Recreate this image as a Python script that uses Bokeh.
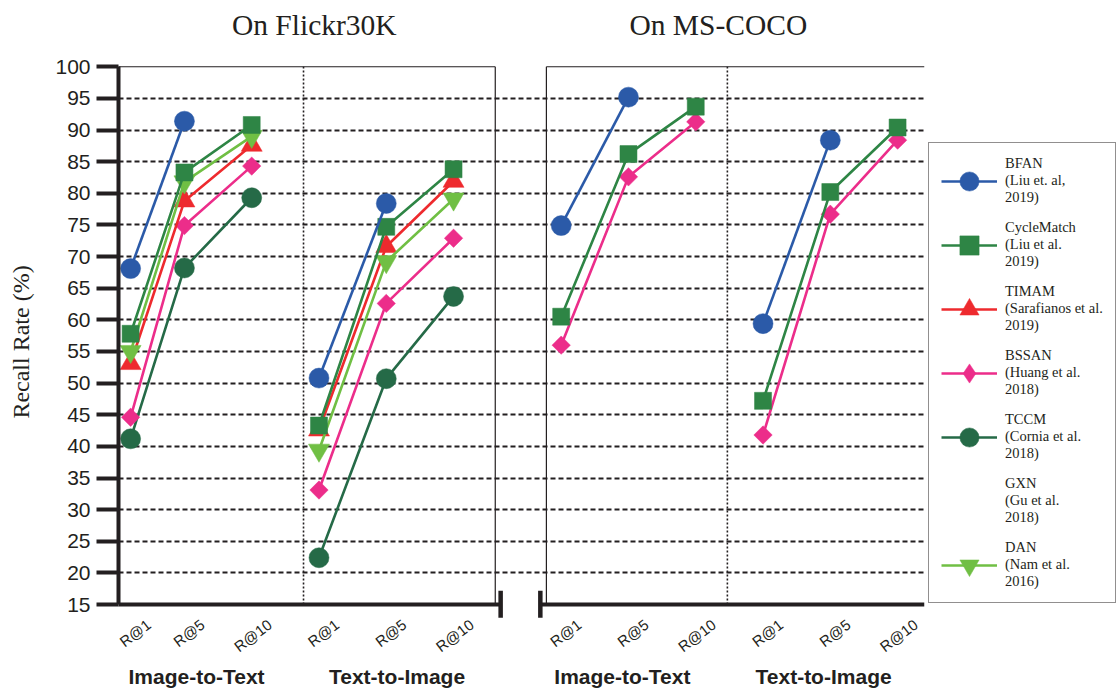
import math
from bokeh.plotting import figure
from bokeh.models import (Range1d, FixedTicker, Legend, LegendItem, LinearAxis)
from bokeh.embed import file_html
from bokeh.resources import INLINE

# ---------------- data ----------------
datasets = ["On Flickr30K", "On  MS-COCO"]
directions = ["Image-to-Text", "Text-to-Image"]
metrics = ["R@1", "R@5", "R@10"]

methods = ["BFAN", "CycleMatch", "TIMAM", "BSSAN", "TCCM", "GXN", "DAN"]
citations = ["(Liu et. al,\n2019)", "(Liu et al.\n2019)", "(Sarafianos et al.\n2019)",
             "(Huang et al.\n2018)", "(Cornia et al.\n2018)", "(Gu et al.\n2018)",
             "(Nam et al.\n2016)"]

# values per method: [I2T R@1, R@5, R@10, T2I R@1, R@5, R@10]
bfan_f30k = [68.1, 91.4, None, 50.8, 78.4, None]
cyclematch_f30k = [57.8, 83.3, 90.8, 43.3, 74.7, 83.8]
timam_f30k = [53.1, 78.8, 87.6, 42.6, 71.6, 81.9]
bssan_f30k = [44.6, 74.9, 84.3, 33.1, 62.6, 72.9]
tccm_f30k = [41.2, 68.2, 79.3, 22.4, 50.7, 63.7]
gxn_f30k = [None, None, None, None, None, None]
dan_f30k = [55.0, 81.8, 89.0, 39.4, 69.2, 79.1]

bfan_coco = [74.9, 95.2, None, 59.4, 88.4, None]
cyclematch_coco = [60.5, 86.2, 93.7, 47.2, 80.2, 90.4]
timam_coco = [None, None, None, None, None, None]
bssan_coco = [56.0, 82.6, 91.3, 41.8, 76.7, 88.4]
tccm_coco = [None, None, None, None, None, None]
gxn_coco = [None, None, None, None, None, None]
dan_coco = [None, None, None, None, None, None]

y_ticks = [15, 20, 25, 30, 35, 40, 45, 50, 55, 60, 65, 70, 75, 80, 85, 90, 95, 100]

# ---------------- layout / style ----------------
tick_x = [0.2, 1, 2, 3, 4, 5, 6.6, 7.6, 8.6, 9.6, 10.6, 11.6]
label_shift = 0.27          # rotated labels sit centred under their tick
title_x = [2.93, 8.99]
group_x = [1.18, 4.16, 7.51, 10.5]
values = {
    "BFAN": bfan_f30k + bfan_coco,
    "CycleMatch": cyclematch_f30k + cyclematch_coco,
    "TIMAM": timam_f30k + timam_coco,
    "BSSAN": bssan_f30k + bssan_coco,
    "TCCM": tccm_f30k + tccm_coco,
    "GXN": gxn_f30k + gxn_coco,
    "DAN": dan_f30k + dan_coco,
}
styles = {
    "BFAN": dict(color="#2b5aa8", marker="circle", size=20, angle=0.0, leg="circle"),
    "CycleMatch": dict(color="#2e8545", marker="square", size=17, angle=0.0, leg="square"),
    "TIMAM": dict(color="#ee2a2e", marker="triangle", size=21, angle=0.0, leg="triangle"),
    "BSSAN": dict(color="#ec2d8a", marker="square", size=13, angle=math.pi / 4, leg="diamond"),
    "TCCM": dict(color="#256a47", marker="circle", size=20, angle=0.0, leg="circle"),
    "GXN": dict(color="#888888", marker="circle", size=0, angle=0.0, leg=None),
    "DAN": dict(color="#70bf44", marker="inverted_triangle", size=21, angle=0.0,
                leg="inverted_triangle"),
}
draw_order = ["TCCM", "BSSAN", "TIMAM", "DAN", "CycleMatch", "BFAN", "GXN"]
INK = "#231f20"
NAN = float("nan")

p = figure(output_backend="svg", toolbar_location=None,
           frame_width=806, frame_height=553,
           min_border_left=118, min_border_top=65, min_border_bottom=73,
           min_border_right=193,
           x_range=Range1d(0.02, 12.0), y_range=Range1d(12.8, 100.2))
p.outline_line_color = None
p.background_fill_color = "white"
p.border_fill_color = "white"

# y axis
yax = p.yaxis[0]
yax.ticker = FixedTicker(ticks=y_ticks)
yax.bounds = (15, 100)
yax.axis_line_width = 4
yax.axis_line_color = INK
yax.major_tick_line_width = 4
yax.major_tick_line_color = INK
yax.major_tick_out = 22
yax.major_tick_in = 0
yax.minor_tick_line_color = None
yax.major_label_text_font = "Liberation Sans"
yax.major_label_text_font_size = "21px"
yax.major_label_text_color = INK
yax.major_label_standoff = 6
yax.axis_label = "Recall Rate (%)"
yax.axis_label_text_font = "Liberation Serif"
yax.axis_label_text_font_size = "24px"
yax.axis_label_text_font_style = "normal"
yax.axis_label_text_color = INK
yax.axis_label_standoff = 18

# x axis (metric labels)
label_ticks = [t + label_shift for t in tick_x]
xax = p.xaxis[0]
xax.ticker = FixedTicker(ticks=label_ticks)
xax.major_label_overrides = {t: metrics[i % 3] for i, t in enumerate(label_ticks)}
xax.major_label_orientation = 0.65
xax.axis_line_color = None
xax.major_tick_line_color = None
xax.minor_tick_line_color = None
xax.major_label_text_font = "Liberation Sans"
xax.major_label_text_font_size = "15px"
xax.major_label_text_color = INK
xax.major_label_standoff = -2

# x axis (group labels)
gax = LinearAxis(ticker=FixedTicker(ticks=group_x),
                 major_label_overrides={x: directions[i % 2] for i, x in enumerate(group_x)},
                 axis_line_color=None, major_tick_line_color=None,
                 minor_tick_line_color=None,
                 major_label_text_font="Liberation Sans",
                 major_label_text_font_size="21px",
                 major_label_text_font_style="bold",
                 major_label_text_color=INK, major_label_standoff=-6)
p.add_layout(gax, "below")

# title axis (dataset labels)
tax = LinearAxis(ticker=FixedTicker(ticks=title_x),
                 major_label_overrides={x: datasets[i] for i, x in enumerate(title_x)},
                 axis_line_color=None, major_tick_line_color=None,
                 minor_tick_line_color=None,
                 major_label_text_font="Liberation Serif",
                 major_label_text_font_size="29.5px",
                 major_label_text_color=INK, major_label_standoff=19)
p.add_layout(tax, "above")

# grid
p.xgrid.visible = False
p.ygrid.ticker = FixedTicker(ticks=y_ticks[1:-1])
p.ygrid.grid_line_color = INK
p.ygrid.grid_line_width = 2
p.ygrid.grid_line_dash = "5 3"

# panel frames
p.segment(x0=[0.02, 6.38], y0=[100, 100], x1=[5.62, 12.0], y1=[100, 100],
          line_color=INK, line_width=1.2)
p.segment(x0=[5.62, 6.38], y0=[15, 15], x1=[5.62, 6.38], y1=[100, 100],
          line_color=INK, line_width=1.2)
p.segment(x0=[2.77, 9.07], y0=[15, 15], x1=[2.77, 9.07], y1=[100, 100],
          line_color=INK, line_width=1.6, line_dash="2 2")
p.segment(x0=[0.0, 6.29], y0=[15, 15], x1=[5.70, 12.0], y1=[15, 15],
          line_color=INK, line_width=4)
p.segment(x0=[5.70, 6.29], y0=[17.2, 17.2], x1=[5.70, 6.29], y1=[12.9, 12.9],
          line_color=INK, line_width=4.5)

# series
legend_renderers = {}
for m in draw_order:
    st = styles[m]
    vals = values[m]
    first_line, first_pts = None, None
    for g in range(4):
        xs, ys = [], []
        for k in range(3):
            v = vals[g * 3 + k]
            if v is not None:
                xs.append(tick_x[g * 3 + k])
                ys.append(v)
        if not xs:
            continue
        r1 = p.line(xs, ys, line_color=st["color"], line_width=2.6)
        r2 = p.scatter(xs, ys, marker=st["marker"], size=st["size"], angle=st["angle"],
                       fill_color=st["color"], line_color=st["color"], line_width=0.5)
        if first_line is None:
            first_line, first_pts = r1, r2
    if first_line is None:
        # method without plotted values: legend entry shows no glyph
        legend_renderers[m] = [p.line([NAN], [NAN], line_alpha=0)]
    elif st["leg"] != st["marker"]:
        key = p.scatter([NAN], [NAN], marker=st["leg"], fill_color=st["color"],
                        line_color=st["color"], line_width=0.5)
        legend_renderers[m] = [first_line, key]
    else:
        legend_renderers[m] = [first_line, first_pts]

items = [LegendItem(label=m + "\n" + c, renderers=legend_renderers[m], index=0)
         for m, c in zip(methods, citations)]
legend = Legend(items=items, location=(4, 15), margin=0,
                padding=12, spacing=13, glyph_width=56, glyph_height=48,
                label_height=48, label_standoff=8,
                label_text_font="Liberation Serif", label_text_font_size="14.5px",
                label_text_line_height=1.1, label_text_color=INK,
                border_line_color=INK, border_line_width=1.5,
                background_fill_color="white", background_fill_alpha=1.0)
p.add_layout(legend, "right")

open("out.html", "w").write(file_html(p, INLINE))
